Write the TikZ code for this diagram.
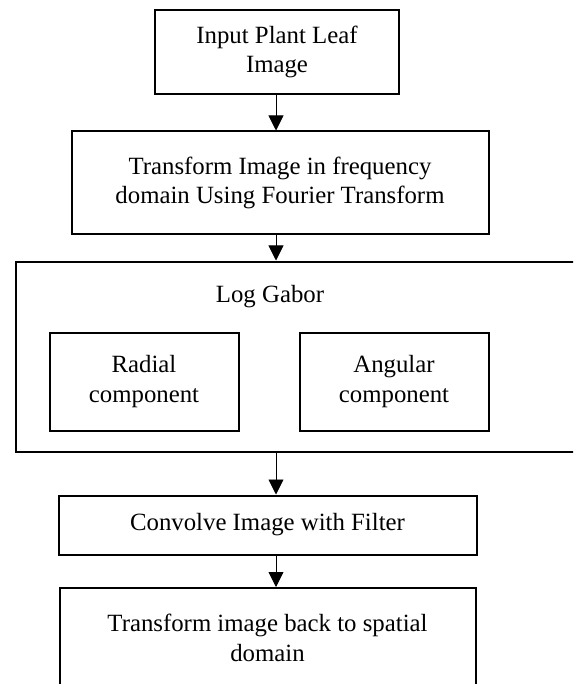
\documentclass[tikz,border=0pt]{standalone}
\usepackage{fontspec}
\setmainfont{Liberation Serif}
\usetikzlibrary{arrows.meta}
\begin{document}
\begin{tikzpicture}[x=1pt,y=-1pt,
 box/.style={draw,line width=2pt,align=center,inner sep=0pt,font=\fontsize{24.8}{29.5}\selectfont},
 txt/.style={align=center,inner sep=0pt,font=\fontsize{24.8}{29.5}\selectfont},
 arr/.style={line width=0.9pt,-{Triangle[width=15pt,length=15pt]}}]
\clip (0,0) rectangle (573,684);
\fill[white] (0,0) rectangle (573,684);
\coordinate (ax) at (276,0);
\node[box,minimum width=244pt,minimum height=84pt] (b1) at (277,52) {Input Plant Leaf\\Image};
\node[box,minimum width=417pt,minimum height=103pt] (b2) at (280,183) {Transform Image in frequency\\domain Using Fourier Transform};
\node[box,minimum width=584pt,minimum height=190pt] (b3) at (308,356.5) {};
\node[txt] (lg) at (270,297) {Log Gabor};
\node[box,minimum width=189pt,minimum height=98pt] (rad) at (144,381.5) {Radial\\component};
\node[box,minimum width=189pt,minimum height=98pt] (ang) at (394,381.5) {Angular\\component};
\node[box,minimum width=418pt,minimum height=59pt] (b4) at (267.5,525) {Convolve Image with Filter};
\node[box,minimum width=416pt,minimum height=100pt] (b5) at (267.5,638) {Transform image back to spatial\\domain};
\draw[arr] (b1.south -| ax) -- (b2.north -| ax);
\draw[arr] (b2.south -| ax) -- (b3.north -| ax);
\draw[arr] (b3.south -| ax) -- (b4.north -| ax);
\draw[arr] (b4.south -| ax) -- (b5.north -| ax);
\end{tikzpicture}
\end{document}
